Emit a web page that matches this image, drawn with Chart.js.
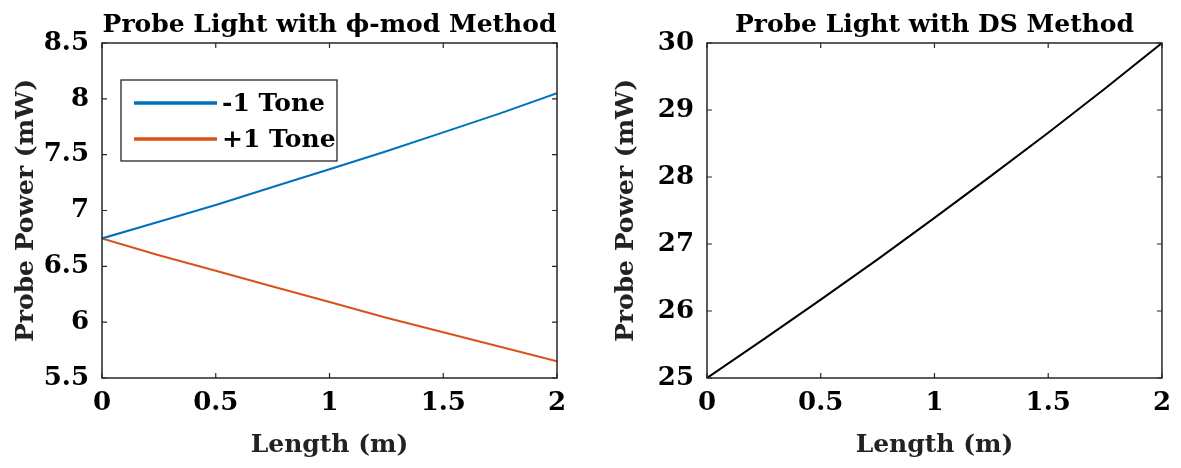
<!DOCTYPE html>
<html><head><meta charset="utf-8">
<script src="https://cdn.jsdelivr.net/npm/chart.js@4.4.1/dist/chart.umd.min.js"></script>
<style>
body{margin:0;background:#fff;width:1181px;height:468px;overflow:hidden;position:relative}
#c1{position:absolute;left:0;top:0}
#c2{position:absolute;left:600px;top:0}
</style></head><body>
<canvas id="c1" width="590" height="468"></canvas>
<canvas id="c2" width="581" height="468"></canvas>
<script>
// ---- data ----
const lengths = [0, 0.25, 0.5, 0.75, 1.0, 1.25, 1.5, 1.75, 2.0];
const minusOneTone = [6.75, 6.90, 7.05, 7.21, 7.37, 7.53, 7.70, 7.87, 8.05];
const plusOneTone  = [6.75, 6.60, 6.46, 6.32, 6.18, 6.04, 5.91, 5.78, 5.65];
const dsProbe      = [25.0, 25.58, 26.17, 26.77, 27.39, 28.02, 28.66, 29.32, 30.0];
const xTicks = [0, 0.5, 1, 1.5, 2];
const xTickLabels = ['0', '0.5', '1', '1.5', '2'];
const leftYTicks = [5.5, 6, 6.5, 7, 7.5, 8, 8.5];
const leftYTickLabels = ['5.5', '6', '6.5', '7', '7.5', '8', '8.5'];
const rightYTicks = [25, 26, 27, 28, 29, 30];
const rightYTickLabels = ['25', '26', '27', '28', '29', '30'];
const seriesNames = ['-1 Tone', '+1 Tone'];
const leftTitle = 'Probe Light with \u03D5-mod Method';
const rightTitle = 'Probe Light with DS Method';
const xTitle = 'Length (m)';
const yTitle = 'Probe Power (mW)';

const FONT = "'DejaVu Serif'";
const INK = '#262626';

function pts(ys){ return lengths.map((x,i)=>({x:x, y:ys[i]})); }

const boxTicks = {
  id:'boxTicks',
  afterDraw(chart){
    const ctx = chart.ctx, a = chart.chartArea;
    const xs = chart.scales.x, ys = chart.scales.y;
    ctx.save();
    ctx.strokeStyle = INK; ctx.lineWidth = 1.5;
    ctx.strokeRect(a.left, a.top, a.right-a.left, a.bottom-a.top);
    ctx.lineWidth = 1.2;
    const L = 5;
    ctx.beginPath();
    xs.ticks.forEach(t=>{
      const p = xs.getPixelForValue(t.value);
      ctx.moveTo(p, a.bottom); ctx.lineTo(p, a.bottom-L);
      ctx.moveTo(p, a.top); ctx.lineTo(p, a.top+L);
    });
    ys.ticks.forEach(t=>{
      const p = ys.getPixelForValue(t.value);
      ctx.moveTo(a.left, p); ctx.lineTo(a.left+L, p);
      ctx.moveTo(a.right, p); ctx.lineTo(a.right-L, p);
    });
    ctx.stroke();
    ctx.restore();
  }
};

const boxLegend = {
  id:'boxLegend',
  afterDraw(chart, args, opts){
    if(!opts || !opts.show) return;
    const ctx = chart.ctx;
    ctx.save();
    ctx.fillStyle = '#fff';
    ctx.fillRect(121, 80, 216, 81);
    ctx.strokeStyle = INK; ctx.lineWidth = 1.3;
    ctx.strokeRect(121, 80, 216, 81);
    ctx.font = "bold 25px " + FONT;
    ctx.textBaseline = 'middle';
    chart.data.datasets.forEach((ds,i)=>{
      const y = 103 + i*36;
      ctx.strokeStyle = ds.borderColor; ctx.lineWidth = 3.5;
      ctx.beginPath(); ctx.moveTo(134, y); ctx.lineTo(217, y); ctx.stroke();
      ctx.fillStyle = '#000';
      ctx.fillText(ds.label, 222, y+1);
    });
    ctx.restore();
  }
};

function makeOptions(title, yMin, yMax, yTicks, yLabels, plotLeft, plotRight, showLegend, canvasW){
  return {
    responsive:false, animation:false, devicePixelRatio:1,
    layout:{padding:{left:0, right:canvasW-plotRight, top:0, bottom:0}},
    plugins:{
      legend:{display:false}, tooltip:{enabled:false},
      title:{display:true, text:title, fullSize:false, color:'#000',
        font:{family:FONT, size:25, weight:'bold'}, padding:{top:10, bottom:3}},
      boxLegend:{show:showLegend}
    },
    scales:{
      x:{type:'linear', min:0, max:2,
        afterBuildTicks(s){ s.ticks = xTicks.map(v=>({value:v})); },
        afterFit(s){ s.height = 90; },
        grid:{display:false, drawTicks:false}, border:{display:false},
        ticks:{color:'#000', padding:10, font:{family:FONT, size:26, weight:'bold'},
          maxRotation:0, autoSkip:false,
          callback:(v)=>{ const i = xTicks.indexOf(v); return i>=0 ? xTickLabels[i] : ''; }},
        title:{display:true, text:xTitle, color:'#222', font:{family:FONT, size:25, weight:'bold'},
          padding:{top:0, bottom:8}}
      },
      y:{type:'linear', min:yMin, max:yMax,
        afterBuildTicks(s){ s.ticks = yTicks.map(v=>({value:v})); },
        afterFit(s){ s.width = plotLeft; },
        grid:{display:false, drawTicks:false}, border:{display:false},
        ticks:{color:'#000', padding:13, font:{family:FONT, size:26, weight:'bold'}, autoSkip:false,
          callback:(v)=>{ const i = yTicks.indexOf(v); return i>=0 ? yLabels[i] : ''; }},
        title:{display:true, text:yTitle, color:'#222', font:{family:FONT, size:25, weight:'bold'},
          padding:{top:11, bottom:0}}
      }
    }
  };
}

new Chart(document.getElementById('c1'), {
  type:'line',
  data:{datasets:[
    {label:seriesNames[0], data:pts(minusOneTone), borderColor:'#0072BD', borderWidth:2, pointRadius:0, tension:0},
    {label:seriesNames[1], data:pts(plusOneTone), borderColor:'#D95319', borderWidth:2, pointRadius:0, tension:0}
  ]},
  options: makeOptions(leftTitle, 5.5, 8.5, leftYTicks, leftYTickLabels, 102, 557, true, 590),
  plugins:[boxTicks, boxLegend]
});

new Chart(document.getElementById('c2'), {
  type:'line',
  data:{datasets:[
    {label:'DS', data:pts(dsProbe), borderColor:'#000', borderWidth:2, pointRadius:0, tension:0}
  ]},
  options: makeOptions(rightTitle, 25, 30, rightYTicks, rightYTickLabels, 107, 568, false, 581),
  plugins:[boxTicks, boxLegend]
});
</script>
</body></html>
